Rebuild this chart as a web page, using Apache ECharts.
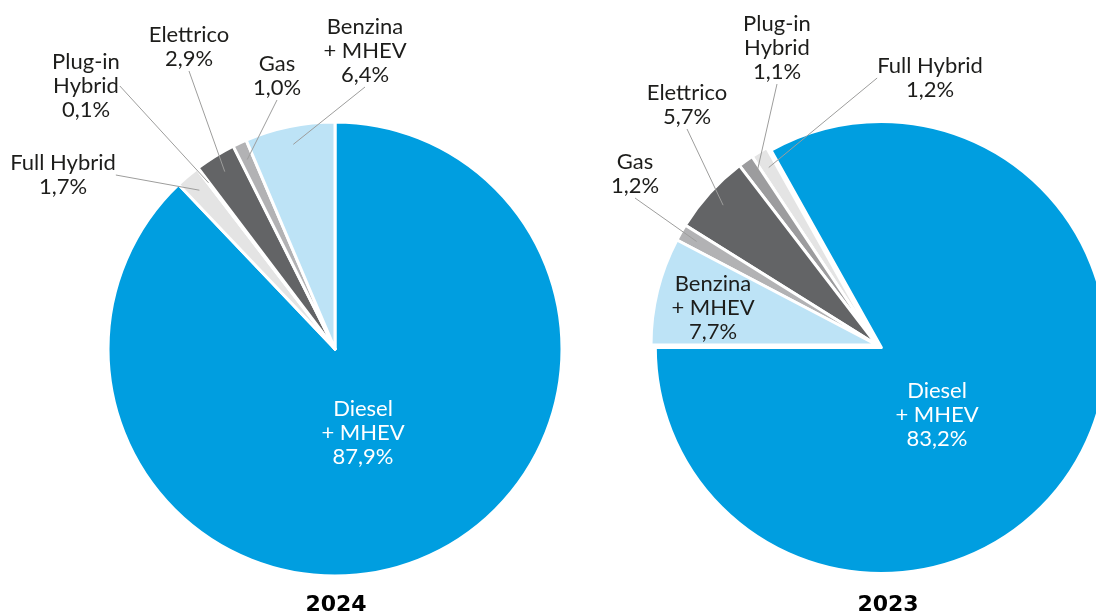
<!DOCTYPE html>
<html><head><meta charset="utf-8">
<script src="https://cdn.jsdelivr.net/npm/echarts@6/dist/echarts.min.js"></script>
<style>html,body{margin:0;padding:0;background:#fff}#c{width:1096px;height:615px}</style>
</head><body><div id="c"></div>
<script>
// ---- data ----
const categories = ['Diesel + MHEV', 'Full Hybrid', 'Plug-in Hybrid', 'Elettrico', 'Gas', 'Benzina + MHEV'];
const labelNames = ['Diesel\n+ MHEV', 'Full Hybrid', 'Plug-in\nHybrid', 'Elettrico', 'Gas', 'Benzina\n+ MHEV'];
const values2024 = [87.9, 1.7, 0.1, 2.9, 1.0, 6.4];
const values2023 = [83.2, 1.2, 1.1, 5.7, 1.2, 7.7];
const years = ['2024', '2023'];

// ---- styles / layout ----
const colors = ['#009ee0', '#e4e4e4', '#9c9c9e', '#636466', '#b2b2b4', '#bde3f6'];
const FONT = 'Lato, "Liberation Sans", sans-serif';
const pies = [
  { values: values2024, center: [335, 349], r: 227, startAngle: 90, clockwise: true, explode: false,
    labelPos: [[363,433],[63,175],[86,86],[189,47],[277,76],[365,51]], inside: [0], titleX: 331 },
  { values: values2023, center: [877, 345], r: 226, startAngle: 180, clockwise: false, explode: true,
    labelPos: [[937,415],[930,78],[777,48],[687,105],[635,174],[713,308]], inside: [0, 5], titleX: 883 }
];

const fmtPct = v => v.toFixed(1).replace('.', ',') + '%';

const series = [];
pies.forEach((p, pi) => {
  series.push({
    type: 'pie', center: p.center, radius: [0, p.r], startAngle: p.startAngle, clockwise: p.clockwise,
    selectedMode: p.explode ? 'single' : false, selectedOffset: 5,
    silent: true, animation: false, label: { show: false }, labelLine: { show: false },
    itemStyle: { borderColor: '#fff', borderWidth: 3 },
    emphasis: { disabled: true },
    data: p.values.map((v, i) => ({ name: categories[i], value: v, selected: p.explode && i === 0,
      itemStyle: { color: colors[i] } }))
  });
});
pies.forEach((p, pi) => {
  series.push({
    type: 'pie', center: p.center, radius: [0, p.r * 0.92], startAngle: p.startAngle, clockwise: p.clockwise,
    silent: true, animation: false, avoidLabelOverlap: false, z: 5,
    emphasis: { disabled: true },
    itemStyle: { color: 'rgba(0,0,0,0)', borderWidth: 0 },
    label: { show: true, position: 'outside', fontFamily: FONT, fontSize: 22, lineHeight: 24,
      color: '#1d1d1b', align: 'center',
      formatter: prm => labelNames[prm.dataIndex] + '\n' + fmtPct(prm.value) },
    labelLine: { show: true, length: 5, length2: 0, lineStyle: { color: '#9d9d9c', width: 1 } },
    labelLayout: prm => {
      const pos = p.labelPos[prm.dataIndex];
      return { x: pos[0], y: pos[1], align: 'center', verticalAlign: 'middle' };
    },
    data: p.values.map((v, i) => {
      const inside = p.inside.indexOf(i) >= 0;
      const d = { name: categories[i], value: v };
      if (inside) {
        d.labelLine = { show: false };
        if (i === 0) d.label = { color: '#ffffff' };
      }
      return d;
    })
  });
});

const chart = echarts.init(document.getElementById('c'), null, { renderer: 'canvas' });
chart.setOption({
  animation: false,
  title: pies.map((p, i) => ({ text: years[i], left: p.titleX, top: 589, textAlign: 'center',
    textStyle: { fontFamily: '"DejaVu Sans", sans-serif', fontWeight: 'bold', fontSize: 22, color: '#000' } })),
  series: series
});
</script></body></html>
